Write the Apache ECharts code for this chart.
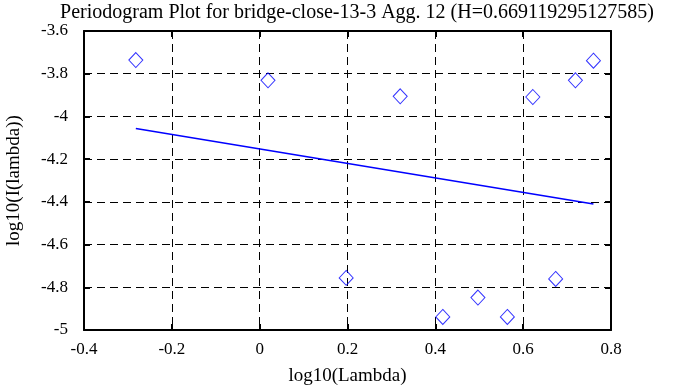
<!DOCTYPE html>
<html>
<head>
<meta charset="utf-8">
<script src="https://cdn.jsdelivr.net/npm/echarts@6/dist/echarts.min.js"></script>
<style>
html,body{margin:0;padding:0;background:#fff;}
#c{width:695px;height:387px;}
</style>
</head>
<body>
<div id="c"></div>
<script>
const titleText = 'Periodogram Plot for bridge-close-13-3 Agg. 12 (H=0.669119295127585)';
const xName = 'log10(Lambda)';
const yName = 'log10(I(lambda))';
const lambdaX = [-0.282, 0.019, 0.197, 0.320, 0.417, 0.497, 0.564, 0.622, 0.674, 0.719, 0.760];
const logI = [-3.736, -3.831, -4.756, -3.906, -4.939, -4.848, -4.939, -3.909, -4.761, -3.831, -3.739];
const fitX = [-0.282, 0.760];
const fitY = [-4.056, -4.410];

const FONT = '"Liberation Serif", "DejaVu Serif", serif';
const fmt = v => { const r = Math.round(v * 10) / 10; return String(r); };

const chart = echarts.init(document.getElementById('c'));
const baseAxis = {
  axisLine: { show: true, onZero: false, lineStyle: { color: '#000', width: 2 } },
  axisTick: { show: true, inside: true, length: 6, lineStyle: { color: '#000', width: 2 } },
  splitLine: { show: true, lineStyle: { color: '#000', width: 1, type: [8, 5] } },
};
chart.setOption({
  animation: false,
  backgroundColor: '#fff',
  title: {
    text: titleText, left: 352, top: -2, textAlign: 'center',
    textStyle: { fontFamily: FONT, fontSize: 20, fontWeight: 'normal', color: '#000' }
  },
  grid: { left: 84, right: 84, top: 31, bottom: 57, containLabel: false, outerBoundsMode: 'none' },
  xAxis: [
    Object.assign({}, baseAxis, {
      type: 'value', min: -0.4, max: 0.8, interval: 0.2, position: 'bottom',
      name: xName, nameLocation: 'middle', nameGap: 37,
      nameTextStyle: { fontFamily: FONT, fontSize: 19, color: '#000' },
      axisLabel: { fontFamily: FONT, fontSize: 17, color: '#000', margin: 11, formatter: fmt }
    }),
    Object.assign({}, baseAxis, {
      type: 'value', min: -0.4, max: 0.8, interval: 0.2, position: 'top',
      axisLabel: { show: false }, splitLine: { show: false }
    })
  ],
  yAxis: [
    Object.assign({}, baseAxis, {
      type: 'value', min: -5, max: -3.6, interval: 0.2, position: 'left',
      name: yName, nameLocation: 'middle', nameGap: 60, nameRotate: 90,
      nameTextStyle: { fontFamily: FONT, fontSize: 19, color: '#000' },
      axisLabel: { fontFamily: FONT, fontSize: 17, color: '#000', margin: 16, formatter: fmt }
    }),
    Object.assign({}, baseAxis, {
      type: 'value', min: -5, max: -3.6, interval: 0.2, position: 'right',
      axisLabel: { show: false }, splitLine: { show: false }
    })
  ],
  series: [
    {
      type: 'scatter', xAxisIndex: 0, yAxisIndex: 0,
      data: lambdaX.map((x, i) => [x, logI[i]]),
      symbol: 'diamond', symbolSize: [14, 15],
      itemStyle: { color: 'rgba(0,0,0,0)', borderColor: '#0000ff', borderWidth: 1 }
    },
    {
      type: 'line', xAxisIndex: 0, yAxisIndex: 0,
      data: fitX.map((x, i) => [x, fitY[i]]),
      showSymbol: false, symbol: 'none',
      lineStyle: { color: '#0000ff', width: 1.5 }
    }
  ]
});
</script>
</body>
</html>
